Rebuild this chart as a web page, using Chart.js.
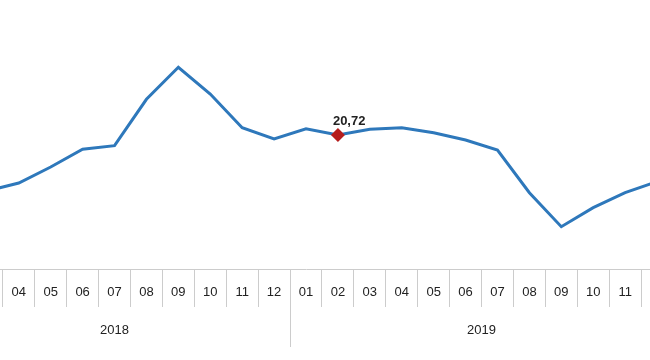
<!DOCTYPE html>
<html>
<head>
<meta charset="utf-8">
<script src="https://cdn.jsdelivr.net/npm/chart.js@4.4.1/dist/chart.umd.min.js"></script>
<style>
  html,body{margin:0;padding:0;background:#fff;overflow:hidden;width:650px;height:360px}
  #wrap{position:absolute;left:-61px;top:0;width:734px;height:360px}
</style>
</head>
<body>
<div id="wrap"><canvas id="c"></canvas></div>
<script>
// months 2018-02 .. 2019-12 (chart is cropped at both sides)
const months = ['02','03','04','05','06','07','08','09','10','11','12',
                '01','02','03','04','05','06','07','08','09','10','11','12'];
const years = ['2018','2019'];
const yearSizes = [11, 12];
const values = [14.72,15.12,15.92,17.52,19.29,19.65,24.29,27.49,24.82,21.45,20.32,
                21.35,20.72,21.29,21.45,20.95,20.22,19.22,14.95,11.55,13.45,14.95,16.06];
const markIdx = 12;   // 2019-02
const markLabel = '20,72';

const GRID = '#cccccc';
const FONT = 'Liberation Sans, Arial, sans-serif';

// year labels + long separators under the month row
const yearAxis = {
  id:'yearAxis',
  afterDraw(chart){
    const {ctx, scales:{x}} = chart;
    const half = (x.getPixelForValue(1) - x.getPixelForValue(0))/2;
    const top = chart.chartArea.bottom + 38;
    ctx.save();
    ctx.strokeStyle = GRID; ctx.lineWidth = 1;
    ctx.fillStyle = '#222'; ctx.font = '13px ' + FONT;
    ctx.textAlign = 'center'; ctx.textBaseline = 'middle';
    let start = 0;
    years.forEach((yr,i)=>{
      const end = start + yearSizes[i] - 1;
      const l = x.getPixelForValue(start) - half, r = x.getPixelForValue(end) + half;
      [l, r].forEach(px=>{
        ctx.beginPath(); ctx.moveTo(Math.round(px)+0.5, top); ctx.lineTo(Math.round(px)+0.5, top+40); ctx.stroke();
      });
      ctx.fillText(yr, (l+r)/2, 330);
      start = end + 1;
    });
    // value label next to the marked point
    const p = chart.getDatasetMeta(0).data[markIdx];
    ctx.font = 'bold 13px ' + FONT;
    ctx.textAlign = 'left';
    ctx.fillText(markLabel, p.x - 5, p.y - 14);
    ctx.restore();
  }
};

new Chart(document.getElementById('c'), {
  type:'line',
  data:{
    labels: months,
    datasets:[{
      data: values,
      borderColor:'#2e78bb',
      borderWidth:3,
      tension:0,
      pointStyle:'rectRot',
      pointRadius: values.map((v,i)=> i===markIdx ? 7 : 0),
      pointBackgroundColor:'#b51d1d',
      pointBorderColor:'#b51d1d',
      pointBorderWidth:0
    }]
  },
  options:{
    responsive:true,
    maintainAspectRatio:false,
    animation:false,
    layout:{padding:{top:9, left:0, right:0, bottom:0}},
    plugins:{legend:{display:false}, tooltip:{enabled:false}},
    scales:{
      x:{
        offset:true,
        border:{color:GRID},
        grid:{offset:true, drawOnChartArea:false, drawTicks:true, tickLength:38, color:GRID},
        ticks:{color:'#222', font:{family:FONT, size:13}, padding:-22, maxRotation:0, autoSkip:false},
        afterFit(scale){ scale.height = 91; }
      },
      y:{display:false, min:7.32, max:33.32}
    }
  },
  plugins:[yearAxis]
});
</script>
</body>
</html>
